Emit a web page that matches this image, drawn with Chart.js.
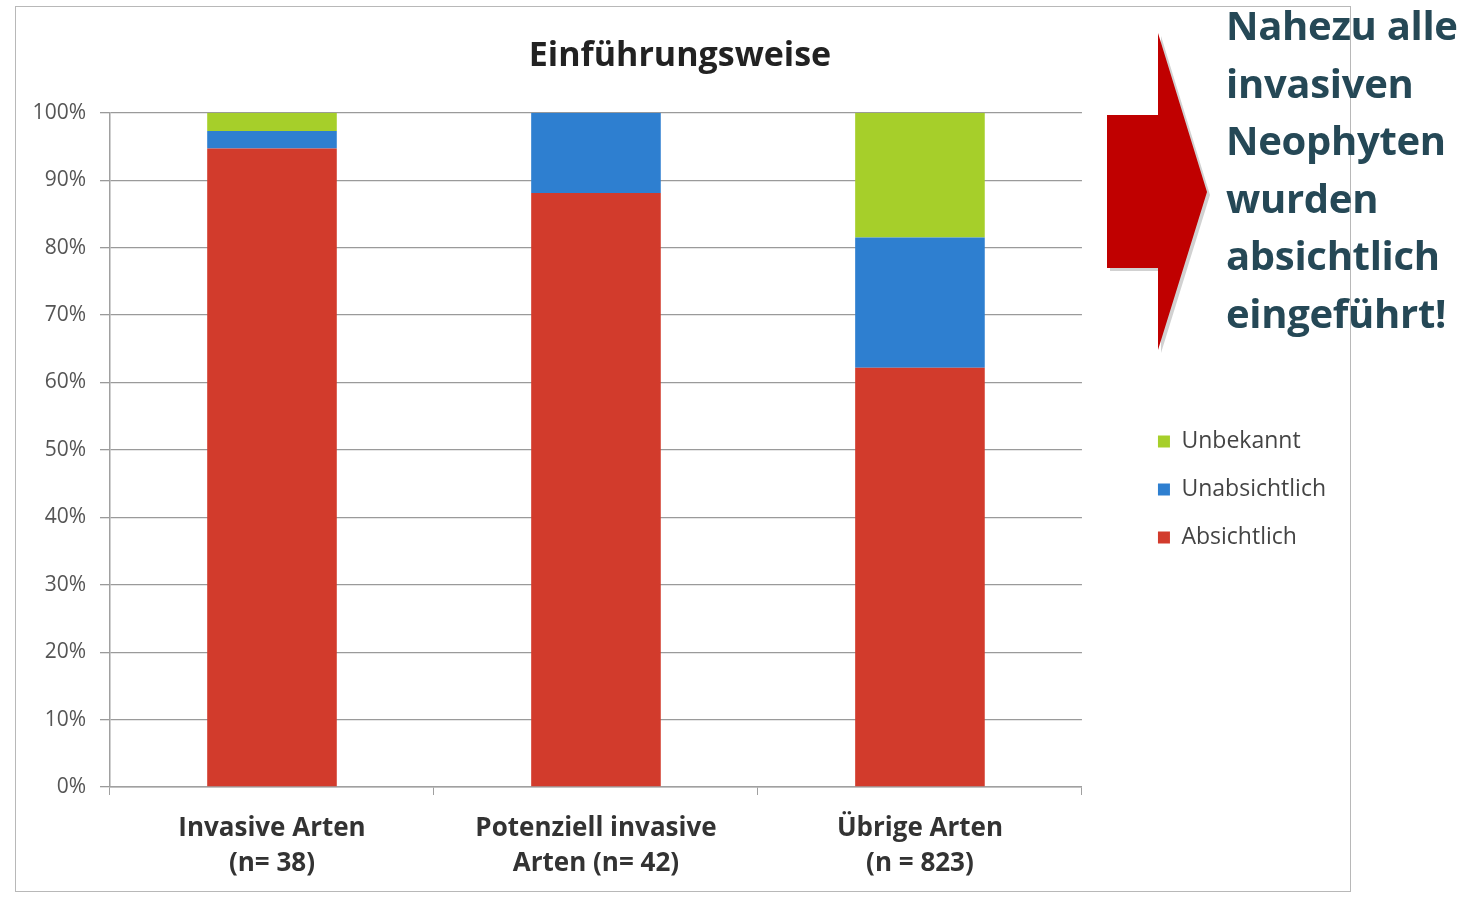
<!DOCTYPE html>
<html>
<head>
<meta charset="utf-8">
<script src="https://cdn.jsdelivr.net/npm/chart.js@4"></script>
<style>
  html, body { margin: 0; padding: 0; background: #fff; }
  #wrap { position: relative; width: 1471px; height: 897px; overflow: hidden; }
  #frame { position: absolute; left: 15px; top: 6px; width: 1336px; height: 886px; border: 1.5px solid #b8b8b8; box-sizing: border-box; }
  #chart { position: absolute; left: 0; top: 0; }
  #arrow { position: absolute; left: 0; top: 0; }
  #note { position: absolute; left: 1226px; top: -4px; font-family: "Open Sans", Lato, sans-serif; font-weight: 700; font-size: 40px; line-height: 57.5px; color: #254856; letter-spacing: -0.3px; }
</style>
</head>
<body>
<div id="wrap">
  <div id="frame"></div>
  <canvas id="chart" width="1471" height="897"></canvas>
  <svg id="arrow" width="1471" height="897">
    <polygon points="1110,118 1161,118 1161,36 1210,195 1161,353 1161,271 1110,271" fill="#7a7a7a" opacity="0.35"/>
    <polygon points="1107,115 1158,115 1158,33 1207,192 1158,350 1158,268 1107,268" fill="#c00000"/>
  </svg>
  <div id="note">Nahezu alle<br>invasiven<br>Neophyten<br>wurden<br>absichtlich<br>eingeführt!</div>
</div>
<script>
// Kategorien (x-Achse)
const kategorien = [
    ['Invasive Arten', '(n= 38)'],
    ['Potenziell invasive', 'Arten (n= 42)'],
    ['Übrige Arten', '(n = 823)']
];

// Anteile in %
const absichtlich = [94.7, 88.1, 62.2];
const unabsichtlich = [2.6, 11.9, 19.3];
const unbekannt = [2.7, 0, 18.5];

const yTicks = [0, 10, 20, 30, 40, 50, 60, 70, 80, 90, 100];

// Legende und Titel etwas verschieben (wie im Original)
const layoutVerschieben = {
    id: 'layoutVerschieben',
    afterLayout(chart) {
        const lg = chart.legend;
        if (lg) {
            lg.left += 51; lg.right += 51;
            lg.top += 38; lg.bottom += 38;
        }
        const tb = chart.titleBlock;
        if (tb) { tb.left += 30; tb.right += 30; }
    }
};

const ctx = document.getElementById('chart').getContext('2d');
new Chart(ctx, {
    type: 'bar',
    data: {
        labels: kategorien,
        datasets: [
            { label: 'Absichtlich', data: absichtlich, backgroundColor: '#d23b2c' },
            { label: 'Unabsichtlich', data: unabsichtlich, backgroundColor: '#2e7fd0' },
            { label: 'Unbekannt', data: unbekannt, backgroundColor: '#a6cf2a' }
        ]
    },
    plugins: [layoutVerschieben],
    options: {
        responsive: false,
        animation: false,
        layout: { padding: { left: 15, right: 186, top: 6, bottom: 0 } },
        datasets: { bar: { barPercentage: 0.4, categoryPercentage: 1.0 } },
        scales: {
            x: {
                stacked: true,
                grid: { drawOnChartArea: false, drawTicks: true, tickLength: 8, color: '#a0a0a0' },
                border: { color: '#a0a0a0', width: 1.5 },
                ticks: {
                    color: '#333',
                    padding: 16,
                    font: { family: '"Open Sans", Lato, sans-serif', size: 26, weight: 'bold', lineHeight: 1.35 }
                },
                afterFit: (s) => { s.height = 110; }
            },
            y: {
                stacked: true,
                min: 0,
                max: 100,
                afterBuildTicks: (s) => { s.ticks = yTicks.map(v => ({ value: v })); },
                grid: { color: '#9a9a9a', lineWidth: 1.3, tickLength: 10 },
                border: { color: '#a0a0a0', width: 1.5 },
                ticks: {
                    color: '#555',
                    padding: 14,
                    font: { family: '"Open Sans", Lato, sans-serif', size: 21 },
                    callback: (v) => v + '%'
                },
                afterFit: (s) => { s.width = 95; }
            }
        },
        plugins: {
            title: {
                display: true,
                text: 'Einführungsweise',
                color: '#222',
                font: { family: '"Open Sans", Lato, sans-serif', size: 34, weight: 'bold' },
                padding: { top: 30, bottom: 36 }
            },
            legend: {
                position: 'right',
                align: 'center',
                reverse: true,
                labels: {
                    color: '#444',
                    boxWidth: 12,
                    boxHeight: 12,
                    padding: 25,
                    font: { family: '"Open Sans", Lato, sans-serif', size: 23 }
                }
            },
            tooltip: { enabled: false }
        }
    }
});
</script>
</body>
</html>
